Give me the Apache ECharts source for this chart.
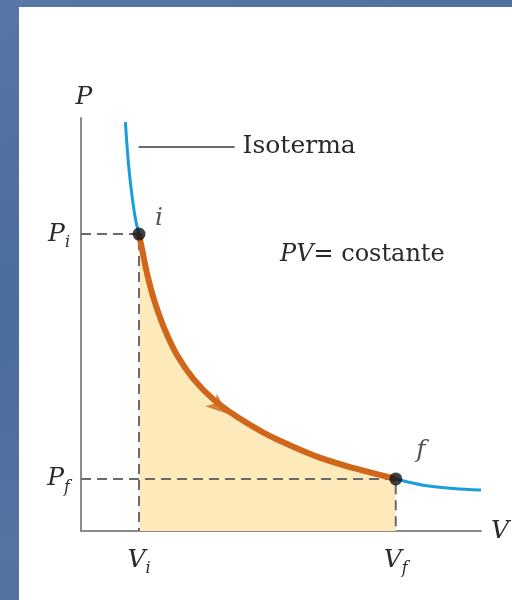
<!DOCTYPE html>
<html>
<head>
<meta charset="utf-8">
<script src="https://cdn.jsdelivr.net/npm/echarts@6/dist/echarts.min.js"></script>
<style>
  html, body { margin: 0; padding: 0; }
  body {
    width: 512px; height: 600px; overflow: hidden; position: relative;
    background: linear-gradient(160deg, #5777a6 0%, #4b6d9c 40%, #5474a2 70%, #4a6b99 100%);
  }
  #chart { position: absolute; left: 19px; top: 7px; width: 493px; height: 593px; background: #fff; }
</style>
</head>
<body>
<div id="chart"></div>
<script>
// isoterma (V, P in unità arbitrarie)
const isoV = [1.11, 1.19, 1.29, 1.37, 1.45, 1.54, 1.66, 1.83, 2.08, 2.40, 2.82, 3.32, 3.94, 4.55, 5.17, 5.99, 6.83, 7.87, 8.56, 9.31, 10.0];
const isoP = [9.90, 8.86, 8.01, 7.51, 7.19, 6.76, 6.20, 5.59, 4.91, 4.26, 3.67, 3.18, 2.74, 2.39, 2.10, 1.77, 1.52, 1.26, 1.11, 1.03, 0.99];

// trasformazione i -> f
const pathV = [1.45, 1.54, 1.66, 1.83, 2.08, 2.40, 2.82, 3.32, 3.94, 4.55, 5.17, 5.99, 6.83, 7.87];
const pathP = [7.19, 6.76, 6.20, 5.59, 4.91, 4.26, 3.67, 3.18, 2.74, 2.39, 2.10, 1.77, 1.52, 1.26];

// stati iniziale / finale
const stateNames = ['i', 'f'];
const stateV = [1.45, 7.87];
const stateP = [7.19, 1.26];

// freccia sul percorso
const arrowV = [3.38];
const arrowP = [3.08];

// linea di richiamo "Isoterma"
const leaderV = [1.44, 3.84];
const leaderP = 9.3;

const SERIF = "'DejaVu Serif', 'Liberation Serif', serif";
const BLUE = '#1a9ddb';
const ORANGE = '#d0661c';
const FILL = '#fde9b9';
const INK = '#2a2a2a';
const SMOOTH = 0.35;
// punta di freccia già orientata lungo il percorso (verso il basso a destra)
const ARROW_PATH = 'path://M20.2,19.3 L10.7,0 L9.1,9.3 L0,11.9 Z';

const zip = (a, b) => a.map((v, k) => [v, b[k]]);

const subRich = {
  m: { fontFamily: SERIF, fontStyle: 'italic', fontSize: 25, lineHeight: 34, color: INK },
  s: { fontFamily: SERIF, fontStyle: 'italic', fontSize: 16, lineHeight: 14, verticalAlign: 'bottom', color: INK },
};

const chart = echarts.init(document.getElementById('chart'));

const guides = stateNames.map((name, k) => ({
  type: 'line',
  name: 'guida ' + name,
  z: 2,
  silent: true,
  symbol: 'none',
  data: [[0, stateP[k]], [stateV[k], stateP[k]], [stateV[k], 0]],
  lineStyle: { color: '#6a6a6a', width: 2, type: [10, 6] },
}));

const option = {
  animation: false,
  grid: { left: 62, right: 27, top: 111, bottom: 69 },
  xAxis: {
    type: 'value',
    min: 0,
    max: 10,
    name: 'V',
    nameLocation: 'end',
    nameGap: 10,
    nameTextStyle: { fontFamily: SERIF, fontStyle: 'italic', fontSize: 25, color: INK, verticalAlign: 'middle' },
    axisLine: { lineStyle: { color: '#8a8a8a', width: 2 } },
    axisTick: { show: false },
    splitLine: { show: false },
    axisLabel: {
      customValues: stateV,
      margin: 12,
      formatter: (v) => `{m|V}{s|${stateNames[stateV.indexOf(v)]}}`,
      rich: subRich,
    },
  },
  yAxis: {
    type: 'value',
    min: 0,
    max: 10,
    name: 'P',
    nameLocation: 'end',
    nameGap: 8,
    nameTextStyle: { fontFamily: SERIF, fontStyle: 'italic', fontSize: 25, color: INK, align: 'center', padding: [0, 0, 0, 6] },
    axisLine: { lineStyle: { color: '#8a8a8a', width: 2 } },
    axisTick: { show: false },
    splitLine: { show: false },
    axisLabel: {
      customValues: stateP,
      margin: 11,
      formatter: (v) => `{m|P}{s|${stateNames[stateP.indexOf(v)]}}`,
      rich: subRich,
    },
  },
  graphic: [
    {
      type: 'text',
      left: 261,
      top: 236,
      style: {
        text: '{it|PV}{n|= costante}',
        rich: {
          it: { fontFamily: SERIF, fontStyle: 'italic', fontSize: 24, fill: INK },
          n: { fontFamily: SERIF, fontSize: 24, fill: INK },
        },
      },
    },
  ],
  series: [
    {
      // area sotto il percorso
      type: 'line',
      name: 'lavoro',
      z: 1,
      silent: true,
      symbol: 'none',
      smooth: SMOOTH,
      data: zip(pathV, pathP),
      lineStyle: { width: 0 },
      areaStyle: { color: FILL, opacity: 1 },
    },
    ...guides,
    {
      type: 'line',
      name: 'Isoterma',
      z: 3,
      symbol: 'none',
      smooth: SMOOTH,
      data: zip(isoV, isoP),
      lineStyle: { color: BLUE, width: 3 },
      markLine: {
        silent: true,
        symbol: 'none',
        lineStyle: { color: '#6a6a6a', width: 2, type: 'solid' },
        label: {
          position: 'end',
          distance: 8,
          formatter: 'Isoterma',
          fontFamily: SERIF,
          fontSize: 25,
          color: INK,
        },
        data: [[{ coord: [leaderV[0], leaderP] }, { coord: [leaderV[1], leaderP] }]],
      },
    },
    {
      type: 'line',
      name: 'percorso',
      z: 4,
      symbol: 'none',
      smooth: SMOOTH,
      data: zip(pathV, pathP),
      lineStyle: { color: ORANGE, width: 6 },
    },
    {
      type: 'scatter',
      name: 'freccia',
      z: 5,
      symbol: ARROW_PATH,
      symbolSize: [22, 21],
      symbolKeepAspect: true,
      data: zip(arrowV, arrowP),
      itemStyle: { color: ORANGE },
    },
    {
      type: 'scatter',
      name: 'stati',
      z: 6,
      symbolSize: 13,
      itemStyle: { color: '#111' },
      data: stateNames.map((name, k) => ({
        value: [stateV[k], stateP[k]],
        label: { offset: k === 0 ? [20, -16] : [25, -28] },
      })),
      label: {
        show: true,
        position: 'inside',
        formatter: (p) => stateNames[p.dataIndex],
        fontFamily: SERIF,
        fontStyle: 'italic',
        fontSize: 25,
        color: INK,
      },
    },
  ],
};

chart.setOption(option);
</script>
</body>
</html>
